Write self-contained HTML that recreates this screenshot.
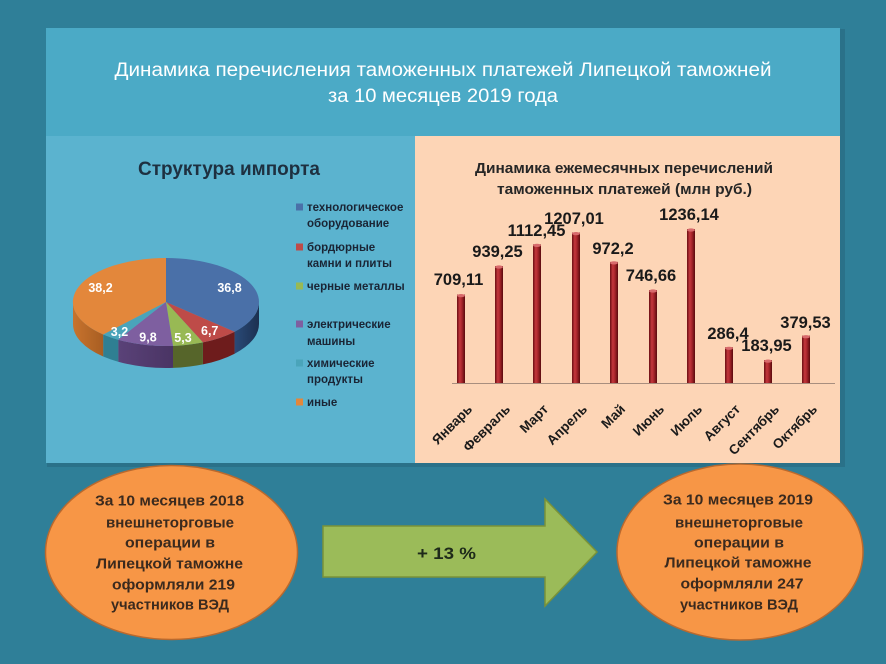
<!DOCTYPE html>
<html><head><meta charset="utf-8">
<style>
html,body{margin:0;padding:0;background:#2f7f98;}
svg{display:block;}
text{font-family:"Liberation Sans","DejaVu Sans",sans-serif;}
</style></head>
<body>
<svg width="886" height="664" viewBox="0 0 886 664" xmlns="http://www.w3.org/2000/svg">
<defs>
<linearGradient id="bar" x1="0" y1="0" x2="1" y2="0">
<stop offset="0" stop-color="#6a0e12"/>
<stop offset="0.35" stop-color="#c4373c"/>
<stop offset="0.6" stop-color="#a8262b"/>
<stop offset="1" stop-color="#5a0a0d"/>
</linearGradient>
<linearGradient id="sideBlue" x1="0" y1="0" x2="1" y2="0"><stop offset="0" stop-color="#2a4a78"/><stop offset="1" stop-color="#1c3050"/></linearGradient>
<linearGradient id="sideOrange" x1="0" y1="0" x2="1" y2="0"><stop offset="0" stop-color="#c8732e"/><stop offset="1" stop-color="#a85e22"/></linearGradient>
<linearGradient id="sidePurple" x1="0" y1="0" x2="1" y2="0"><stop offset="0" stop-color="#5a4278"/><stop offset="1" stop-color="#4a3464"/></linearGradient>
</defs>

<rect x="0" y="0" width="886" height="664" fill="#2f7f98"/>
<rect x="47" y="29" width="798" height="438" fill="#2a7189"/>
<rect x="46" y="28" width="794" height="108" fill="#4baac6"/>
<rect x="46" y="136" width="369" height="327" fill="#5bb3cf"/>
<rect x="415" y="136" width="425" height="327" fill="#fdd5b6"/>

<text x="443" y="76" font-size="19" fill="#ffffff" text-anchor="middle" textLength="657" lengthAdjust="spacingAndGlyphs">Динамика перечисления таможенных платежей Липецкой таможней</text>
<text x="443" y="102" font-size="19" fill="#ffffff" text-anchor="middle" textLength="230" lengthAdjust="spacingAndGlyphs">за 10 месяцев 2019 года</text>

<text x="229" y="175" font-size="19" font-weight="bold" fill="#1e3040" text-anchor="middle" textLength="182" lengthAdjust="spacingAndGlyphs">Структура импорта</text>

<path d="M259,302 A93,44 0 0 1 234.6,331.7 L234.6,353.7 A93,44 0 0 0 259,324 Z" fill="url(#sideBlue)"/>
<path d="M234.6,331.7 A93,44 0 0 1 202.9,342.4 L202.9,364.4 A93,44 0 0 0 234.6,353.7 Z" fill="#6e1c1c"/>
<path d="M202.9,342.4 A93,44 0 0 1 173,345.9 L173,367.9 A93,44 0 0 0 202.9,364.4 Z" fill="#56652a"/>
<path d="M173,345.9 A93,44 0 0 1 118.2,339.7 L118.2,361.7 A93,44 0 0 0 173,367.9 Z" fill="url(#sidePurple)"/>
<path d="M118.2,339.7 A93,44 0 0 1 103.2,334.5 L103.2,356.5 A93,44 0 0 0 118.2,361.7 Z" fill="#2f7f92"/>
<path d="M103.2,334.5 A93,44 0 0 1 73,302 L73,324 A93,44 0 0 0 103.2,356.5 Z" fill="url(#sideOrange)"/>

<path d="M166,302 L166,258 A93,44 0 0 1 234.6,331.7 Z" fill="#4a70a8"/>
<path d="M166,302 L234.6,331.7 A93,44 0 0 1 202.9,342.4 Z" fill="#be4b48"/>
<path d="M166,302 L202.9,342.4 A93,44 0 0 1 173,345.9 Z" fill="#98b954"/>
<path d="M166,302 L173,345.9 A93,44 0 0 1 118.2,339.7 Z" fill="#7e5fa0"/>
<path d="M166,302 L118.2,339.7 A93,44 0 0 1 103.2,334.5 Z" fill="#4aa4ba"/>
<path d="M166,302 L103.2,334.5 A93,44 0 0 1 166,258 Z" fill="#e3873b"/>

<g font-size="12.5" font-weight="bold" fill="#ffffff" text-anchor="middle">
<text x="229.5" y="292">36,8</text>
<text x="100.5" y="292">38,2</text>
<text x="119.5" y="336">3,2</text>
<text x="148" y="341.5">9,8</text>
<text x="183" y="342">5,3</text>
<text x="209.7" y="335">6,7</text>
</g>

<g font-size="11.5" font-weight="bold" fill="#1a2535">
<rect x="296" y="203.5" width="7" height="7" fill="#4a70a8"/>
<text x="307" y="211">технологическое</text>
<text x="307" y="227">оборудование</text>
<rect x="296" y="243.5" width="7" height="7" fill="#be4b48"/>
<text x="307" y="251">бордюрные</text>
<text x="307" y="267">камни и плиты</text>
<rect x="296" y="282.5" width="7" height="7" fill="#98b954"/>
<text x="307" y="290">черные металлы</text>
<rect x="296" y="320.5" width="7" height="7" fill="#7e5fa0"/>
<text x="307" y="328">электрические</text>
<text x="307" y="345">машины</text>
<rect x="296" y="359.5" width="7" height="7" fill="#4aa4ba"/>
<text x="307" y="367">химические</text>
<text x="307" y="383">продукты</text>
<rect x="296" y="398.5" width="7" height="7" fill="#e3873b"/>
<text x="307" y="406">иные</text>
</g>

<text x="624" y="173" font-size="14.5" font-weight="bold" fill="#262626" text-anchor="middle" textLength="298" lengthAdjust="spacingAndGlyphs">Динамика ежемесячных перечислений</text>
<text x="624.5" y="194" font-size="14.5" font-weight="bold" fill="#262626" text-anchor="middle" textLength="255" lengthAdjust="spacingAndGlyphs">таможенных платежей (млн руб.)</text>

<line x1="452" y1="383.5" x2="835" y2="383.5" stroke="#a88e7e" stroke-width="1"/>

<g fill="url(#bar)">
<rect x="457" y="294.6" width="8" height="88.4"/>
<rect x="495" y="266" width="8" height="117"/>
<rect x="533" y="244.4" width="8" height="138.6"/>
<rect x="572" y="232.6" width="8" height="150.4"/>
<rect x="610" y="261.9" width="8" height="121.1"/>
<rect x="649" y="290" width="8" height="93"/>
<rect x="687" y="229" width="8" height="154"/>
<rect x="725" y="347.3" width="8" height="35.7"/>
<rect x="764" y="360.1" width="8" height="22.9"/>
<rect x="802" y="335.7" width="8" height="47.3"/>
</g>
<g fill="#d86a6c">
<ellipse cx="461" cy="295.6" rx="4" ry="1.6"/>
<ellipse cx="499" cy="267" rx="4" ry="1.6"/>
<ellipse cx="537" cy="245.4" rx="4" ry="1.6"/>
<ellipse cx="576" cy="233.6" rx="4" ry="1.6"/>
<ellipse cx="614" cy="262.9" rx="4" ry="1.6"/>
<ellipse cx="653" cy="291" rx="4" ry="1.6"/>
<ellipse cx="691" cy="230" rx="4" ry="1.6"/>
<ellipse cx="729" cy="348.3" rx="4" ry="1.6"/>
<ellipse cx="768" cy="361.1" rx="4" ry="1.6"/>
<ellipse cx="806" cy="336.7" rx="4" ry="1.6"/>
</g>

<g font-size="16.5" font-weight="bold" fill="#1a1a1a" text-anchor="middle">
<text x="458.5" y="285">709,11</text>
<text x="497.5" y="257">939,25</text>
<text x="536.5" y="236">1112,45</text>
<text x="574" y="224">1207,01</text>
<text x="613" y="254">972,2</text>
<text x="651" y="281">746,66</text>
<text x="689" y="220">1236,14</text>
<text x="728" y="339">286,4</text>
<text x="766.5" y="351">183,95</text>
<text x="805.5" y="328">379,53</text>
</g>

<g font-size="13.5" font-weight="bold" fill="#1a1a1a" text-anchor="end">
<text transform="translate(473,410) rotate(-45)">Январь</text>
<text transform="translate(511,410) rotate(-45)">Февраль</text>
<text transform="translate(549,410) rotate(-45)">Март</text>
<text transform="translate(588,410) rotate(-45)">Апрель</text>
<text transform="translate(626,410) rotate(-45)">Май</text>
<text transform="translate(665,410) rotate(-45)">Июнь</text>
<text transform="translate(703,410) rotate(-45)">Июль</text>
<text transform="translate(741,410) rotate(-45)">Август</text>
<text transform="translate(780,410) rotate(-45)">Сентябрь</text>
<text transform="translate(818,410) rotate(-45)">Октябрь</text>
</g>

<ellipse cx="171.5" cy="552.5" rx="126" ry="87" fill="#f79646" stroke="#b9692e" stroke-width="1.5"/>
<g font-size="15" font-weight="bold" fill="#3b2a1e" text-anchor="middle">
<text x="169.5" y="505.5" textLength="149" lengthAdjust="spacingAndGlyphs">За 10 месяцев  2018</text>
<text x="170" y="527.5" textLength="128" lengthAdjust="spacingAndGlyphs">внешнеторговые</text>
<text x="170" y="547.5" textLength="90" lengthAdjust="spacingAndGlyphs">операции  в</text>
<text x="169.5" y="568.5" textLength="147" lengthAdjust="spacingAndGlyphs">Липецкой таможне</text>
<text x="173.5" y="589.5" textLength="123" lengthAdjust="spacingAndGlyphs">оформляли  219</text>
<text x="170" y="609.5" textLength="118" lengthAdjust="spacingAndGlyphs">участников ВЭД</text>
</g>

<path d="M323,526 L545,526 L545,499 L597,552 L545,606 L545,577 L323,577 Z" fill="#9bbb59" stroke="#7a9238" stroke-width="1.5"/>
<text x="446.5" y="559" font-size="17" font-weight="bold" fill="#1e2a1a" text-anchor="middle" textLength="59" lengthAdjust="spacingAndGlyphs">+ 13 %</text>

<ellipse cx="740" cy="552" rx="123" ry="88" fill="#f79646" stroke="#b9692e" stroke-width="1.5"/>
<g font-size="15" font-weight="bold" fill="#3b2a1e" text-anchor="middle">
<text x="738" y="504.5" textLength="150" lengthAdjust="spacingAndGlyphs">За 10 месяцев  2019</text>
<text x="739" y="527.5" textLength="128" lengthAdjust="spacingAndGlyphs">внешнеторговые</text>
<text x="739" y="547.5" textLength="90" lengthAdjust="spacingAndGlyphs">операции  в</text>
<text x="738" y="567.5" textLength="147" lengthAdjust="spacingAndGlyphs">Липецкой таможне</text>
<text x="742" y="588.5" textLength="123" lengthAdjust="spacingAndGlyphs">оформляли  247</text>
<text x="739" y="609.5" textLength="118" lengthAdjust="spacingAndGlyphs">участников ВЭД</text>
</g>
</svg>
</body></html>
